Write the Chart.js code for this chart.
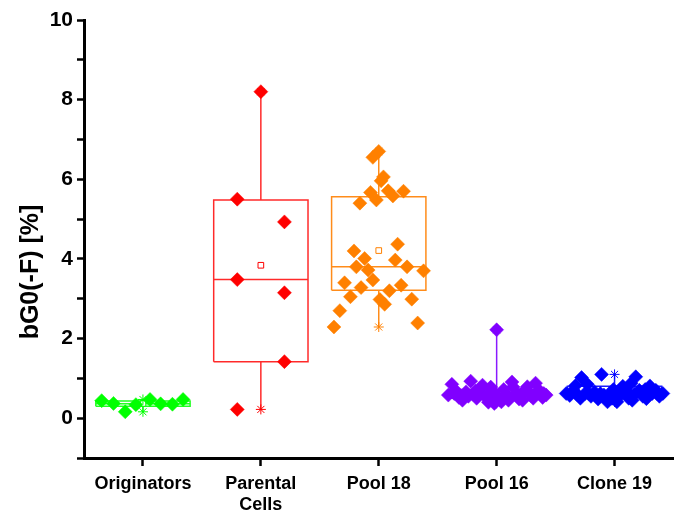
<!DOCTYPE html>
<html>
<head>
<meta charset="utf-8">
<title>bG0(-F)</title>
<script src="https://cdn.jsdelivr.net/npm/chart.js@4.4.1/dist/chart.umd.min.js"></script>
<style>
  body { margin: 0; background: #fff; }
  canvas { display: block; }
</style>
</head>
<body>
<canvas id="boxChart" width="681" height="512"></canvas>
<script>
// category labels (multi-line where the picture wraps)
const categories = [["Originators"], ["Parental", "Cells"], ["Pool 18"], ["Pool 16"], ["Clone 19"]];
const yTitle = "bG0(-F) [%]";

// raw values, %
const originatorsValues = [0.44, 0.37, 0.16, 0.34, 0.47, 0.36, 0.35, 0.47];
const parentalValues = [8.2, 5.5, 4.93, 3.48, 3.15, 1.42, 0.22];
const pool18Values = [6.55, 6.7, 6.06, 5.96, 5.67, 5.71, 5.58, 5.7, 5.4, 5.48, 4.37, 4.2, 4.01, 3.97, 3.8,
    3.72, 3.8, 3.7, 3.47, 3.4, 3.28, 3.34, 3.2, 3.05, 2.98, 2.86, 2.99, 2.7, 2.29, 2.39];
const pool16Values = [0.58, 0.85, 0.7, 0.52, 0.45, 0.66, 0.93, 0.6, 0.5, 0.75, 0.83, 0.55, 0.4, 0.62, 0.66,
    0.37, 2.22, 0.5, 0.41, 0.72, 0.6, 0.52, 0.91, 0.78, 0.62, 0.48, 0.45, 0.7, 0.79, 0.57, 0.5, 0.65,
    0.7, 0.52, 0.58, 0.62, 0.62, 0.55, 0.78, 0.45, 0.62, 0.88, 0.68, 0.58];
const clone19Values = [0.62, 0.57, 0.7, 0.6, 0.5, 1.02, 0.62, 0.85, 0.55, 0.66, 0.48, 1.1, 0.58, 0.41, 0.62,
    0.72, 0.41, 0.55, 0.8, 0.62, 0.5, 0.88, 0.6, 1.04, 0.7, 0.55, 0.49, 0.81, 0.62, 0.7, 0.55, 0.62,
    0.82, 0.62, 0.5, 0.68, 0.72, 0.62, 0.45, 0.62];

// horizontal jitter of each point, in category units
const originatorsJitter = [-0.35, -0.25, -0.15, -0.06, 0.06, 0.15, 0.25, 0.34];
const parentalJitter = [0, -0.2, 0.2, -0.2, 0.2, 0.2, -0.2];
const pool18Jitter = [-0.05, 0, 0.04, 0.02, -0.07, 0.08, 0.12, 0.21, -0.16, -0.02, 0.16, -0.21, -0.12, 0.14, -0.19,
    -0.09, 0.24, 0.38, -0.05, -0.29, -0.15, 0.19, 0.09, -0.24, 0.01, 0.05, 0.28, -0.33, -0.38, 0.33];
const pool16Jitter = [-0.41, -0.38, -0.35, -0.32, -0.29, -0.26, -0.22, -0.2, -0.17, -0.14, -0.12, -0.1, -0.07, -0.06, -0.03,
    -0.02, 0, 0.02, 0.04, 0.06, 0.08, 0.11, 0.13, 0.14, 0.17, 0.19, 0.22, 0.24, 0.26, 0.29, 0.31, 0.34,
    0.36, 0.39, 0.42, 0.4, -0.36, -0.24, -0.05, 0.1, 0.28, 0.33, -0.18, 0.2];
const clone19Jitter = [-0.41, -0.38, -0.35, -0.32, -0.29, -0.28, -0.25, -0.23, -0.2, -0.17, -0.14, -0.11, -0.09, -0.06, -0.04,
    -0.01, 0.02, 0.04, 0.07, 0.09, 0.12, 0.14, 0.17, 0.18, 0.21, 0.24, 0.27, 0.3, 0.32, 0.35, 0.38, 0.41,
    -0.33, -0.22, -0.02, 0.1, 0.26, 0.36, 0.15, -0.12];

// box statistics per category
const boxLow = [0.3, 1.42, 3.21, 0.5, 0.55];
const boxMedian = [0.36, 3.48, 3.8, 0.6, 0.65];
const boxHigh = [0.43, 5.48, 5.56, 0.72, 0.8];
const boxMean = [0.37, 3.84, 4.21, 0.65, 0.7];
const whiskerLow = [0.16, 0.22, 2.29, 0.37, 0.41];
const whiskerHigh = [0.47, 8.2, 6.7, 2.22, 1.1];

const yTicks = [-1, 0, 1, 2, 3, 4, 5, 6, 7, 8, 9, 10];

const groupValues = [originatorsValues, parentalValues, pool18Values, pool16Values, clone19Values];
const groupJitter = [originatorsJitter, parentalJitter, pool18Jitter, pool16Jitter, clone19Jitter];
const colors = ["#00ff00", "#ff0000", "#ff8000", "#8000ff", "#0000ff"];
const lineColors = ["#22ff22", "#ff2a2a", "#ff8c1a", "#8a1aff", "#1a1aff"];

const BOX_HALF = 0.4;
const FONT = "'Liberation Sans', Arial, sans-serif";

function lineSet(points, color) {
    return {
        type: "scatter",
        data: points,
        showLine: true,
        borderColor: color,
        borderWidth: 1.5,
        pointRadius: 0,
        fill: false,
        tension: 0,
        order: 2
    };
}

const datasets = [];
categories.forEach((cat, k) => {
    const x = k + 1;
    const color = colors[k];
    const lc = lineColors[k];

    // points on top
    datasets.push({
        data: groupValues[k].map((v, j) => ({ x: x + groupJitter[k][j], y: v })),
        pointStyle: "rectRot",
        pointRadius: 7,
        pointBackgroundColor: color,
        pointBorderColor: color,
        pointBorderWidth: 0.5,
        order: 0
    });
    // 1% / 99% markers
    datasets.push({
        data: [{ x: x, y: whiskerLow[k] }, { x: x, y: whiskerHigh[k] }],
        pointStyle: "star",
        pointRadius: 5,
        pointBorderColor: color,
        pointBorderWidth: 1,
        order: 1
    });
    // mean
    datasets.push({
        data: [{ x: x, y: boxMean[k] }],
        pointStyle: "rect",
        pointRadius: 4,
        pointBackgroundColor: "#fff",
        pointBorderColor: color,
        pointBorderWidth: 1,
        order: 1
    });
    // box, median, whiskers
    datasets.push(lineSet([
        { x: x - BOX_HALF, y: boxLow[k] }, { x: x + BOX_HALF, y: boxLow[k] },
        { x: x + BOX_HALF, y: boxHigh[k] }, { x: x - BOX_HALF, y: boxHigh[k] },
        { x: x - BOX_HALF, y: boxLow[k] }
    ], lc));
    datasets.push(lineSet([{ x: x - BOX_HALF, y: boxMedian[k] }, { x: x + BOX_HALF, y: boxMedian[k] }], lc));
    datasets.push(lineSet([{ x: x, y: boxHigh[k] }, { x: x, y: whiskerHigh[k] }], lc));
    datasets.push(lineSet([{ x: x, y: boxLow[k] }, { x: x, y: whiskerLow[k] }], lc));
});

// y title drawn a bit lower than the axis centre, as in the original figure
const yTitlePlugin = {
    id: "yTitle",
    afterDraw(chart) {
        const c = chart.ctx;
        c.save();
        c.translate(31, 272);
        c.rotate(-Math.PI / 2);
        c.font = "bold 25px " + FONT;
        c.fillStyle = "#000";
        c.textAlign = "center";
        c.textBaseline = "middle";
        c.fillText(yTitle, 0, 0);
        c.restore();
    }
};

const ctx = document.getElementById("boxChart").getContext("2d");
new Chart(ctx, {
    type: "scatter",
    data: { datasets: datasets },
    plugins: [yTitlePlugin],
    options: {
        responsive: false,
        animation: false,
        events: [],
        layout: { padding: { top: 20, right: 0, bottom: 0, left: 0 } },
        plugins: {
            legend: { display: false },
            tooltip: { enabled: false }
        },
        scales: {
            x: {
                type: "linear",
                min: 0.5,
                max: 5.5,
                afterBuildTicks: axis => { axis.ticks = categories.map((c, k) => ({ value: k + 1 })); },
                afterFit: scale => { scale.height = 54; },
                border: { color: "#000", width: 3 },
                grid: { drawOnChartArea: false, tickLength: 8, tickWidth: 2.5, tickColor: "#000" },
                ticks: {
                    callback: v => categories[v - 1],
                    autoSkip: false,
                    maxRotation: 0,
                    padding: 7,
                    color: "#000",
                    font: { family: FONT, size: 18, weight: "bold", lineHeight: 1.2 }
                }
            },
            y: {
                min: -1,
                max: 10,
                afterBuildTicks: axis => { axis.ticks = yTicks.map(v => ({ value: v })); },
                afterFit: scale => { scale.width = 84; },
                border: { color: "#000", width: 3 },
                grid: { drawOnChartArea: false, tickLength: 7, tickWidth: 2.5, tickColor: "#000" },
                ticks: {
                    callback: v => (v >= 0 && v % 2 === 0) ? String(v) : "",
                    autoSkip: false,
                    padding: 4,
                    color: "#000",
                    font: { family: FONT, size: 21, weight: "bold" }
                }
            }
        }
    }
});
</script>
</body>
</html>
